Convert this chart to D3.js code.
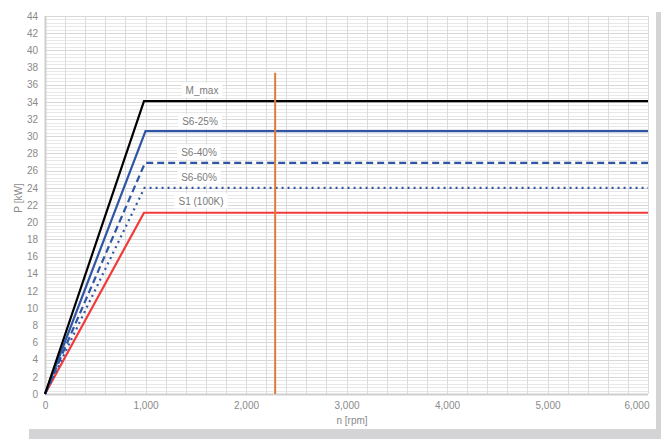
<!DOCTYPE html>
<html>
<head>
<meta charset="utf-8">
<script src="https://cdn.jsdelivr.net/npm/d3@7"></script>
<style>
  body { margin: 0; background: #fff; }
  text { font-family: "Liberation Sans", Arial, sans-serif; }
</style>
</head>
<body>
<div id="chart"></div>
<script>
//page size
let svgWidth = 661;
let svgHeight = 439;

//data: each curve rises linearly to the corner speed, then stays flat
let seriesNames = ["M_max", "S6-25%", "S6-40%", "S6-60%", "S1 (100K)"];
let cornerSpeed = [985, 1000, 995, 990, 985];
let plateauPower = [34.1, 30.6, 26.9, 24.0, 21.1];
let endSpeed = 6000;
let markerSpeed = 2290;
let markerTop = 37.4;

let xTicks = [0, 1000, 2000, 3000, 4000, 5000, 6000];
let yTicks = d3.range(0, 45, 2);

let colors = ["#000000", "#2f55a5", "#2f55a5", "#2f55a5", "#f23a3a"];
let dashes = [null, null, "7,4", "2,4", null];
let labelPos = [
  { x: 202, y: 90 },
  { x: 200, y: 121 },
  { x: 199, y: 152 },
  { x: 199, y: 177 },
  { x: 201, y: 201 }
];

let margin = { top: 16, right: 14, bottom: 45, left: 45 };
let chartWidth = 648 - margin.left;
let chartHeight = 394 - margin.top;

let svg = d3.select("#chart")
  .append("svg")
  .attr("width", svgWidth)
  .attr("height", svgHeight);

// drop shadow of the card
svg.append("rect").attr("x", 656).attr("y", 12).attr("width", 5).attr("height", 427).attr("fill", "#d4d4d6");
svg.append("rect").attr("x", 29).attr("y", 429).attr("width", 632).attr("height", 10).attr("fill", "#d4d4d6");

let chartGroup = svg.append("g")
  .attr("transform", `translate(${margin.left}, ${margin.top})`);

let xScale = d3.scaleLinear().domain([0, 6000]).range([0, chartWidth]);
let yScale = d3.scaleLinear().domain([0, 44]).range([chartHeight, 0]);

/********************************************/
// grid
let minorY = d3.range(0, 44.01, 0.4);
chartGroup.append("g")
  .selectAll("line")
  .data(minorY)
  .enter()
  .append("line")
  .attr("x1", 0)
  .attr("x2", chartWidth)
  .attr("y1", (d) => Math.round(yScale(d)) + 0.5)
  .attr("y2", (d) => Math.round(yScale(d)) + 0.5)
  .attr("stroke", "#e8e8e8")
  .attr("stroke-width", 1);

chartGroup.append("g")
  .selectAll("line")
  .data(d3.range(0, 6001, 200))
  .enter()
  .append("line")
  .attr("x1", (d) => Math.round(xScale(d)) + 0.5)
  .attr("x2", (d) => Math.round(xScale(d)) + 0.5)
  .attr("y1", 0)
  .attr("y2", chartHeight)
  .attr("stroke", "#dcdcdc")
  .attr("stroke-width", 1);

chartGroup.append("g")
  .selectAll("line")
  .data(yTicks)
  .enter()
  .append("line")
  .attr("x1", 0)
  .attr("x2", chartWidth)
  .attr("y1", (d) => Math.round(yScale(d)) + 0.5)
  .attr("y2", (d) => Math.round(yScale(d)) + 0.5)
  .attr("stroke", "#d8d8d8")
  .attr("stroke-width", 1);

/********************************************/
// axes
let xAxis = d3.axisBottom(xScale).tickValues(xTicks).tickSize(0).tickPadding(8)
  .tickFormat(d3.format(","));
let yAxis = d3.axisLeft(yScale).tickValues(yTicks).tickSize(0).tickPadding(7);

let gx = chartGroup.append("g")
  .attr("transform", `translate(0, ${chartHeight})`)
  .call(xAxis);
let gy = chartGroup.append("g").call(yAxis);

[gx, gy].forEach(function (g) {
  g.select(".domain").remove();
  g.selectAll("text").attr("fill", "#8a8a8a").style("font-size", "10px");
});
// last label is pulled inside the plot edge, like the original
gx.selectAll(".tick text").filter((d) => d === 6000)
  .attr("text-anchor", "end")
  .attr("dx", "1px");

chartGroup.append("line")
  .attr("x1", 0).attr("x2", chartWidth)
  .attr("y1", chartHeight + 0.5).attr("y2", chartHeight + 0.5)
  .attr("stroke", "#cfcfcf").attr("stroke-width", 2);
chartGroup.append("line")
  .attr("x1", 0.5).attr("x2", 0.5)
  .attr("y1", 0).attr("y2", chartHeight)
  .attr("stroke", "#cfcfcf").attr("stroke-width", 2);

svg.append("text")
  .attr("x", 352)
  .attr("y", 424)
  .attr("text-anchor", "middle")
  .attr("fill", "#8a8a8a")
  .style("font-size", "10px")
  .text("n [rpm]");

svg.append("text")
  .attr("transform", "translate(22, 198) rotate(-90)")
  .attr("text-anchor", "middle")
  .attr("fill", "#8a8a8a")
  .style("font-size", "10px")
  .text("P [kW]");

/********************************************/
// curves
let line = d3.line()
  .x((d) => xScale(d[0]))
  .y((d) => yScale(d[1]));

// draw bottom curve first so the black one sits on top
for (let i = seriesNames.length - 1; i >= 0; i--) {
  let pts = [[0, 0], [cornerSpeed[i], plateauPower[i]], [endSpeed, plateauPower[i]]];
  chartGroup.append("path")
    .datum(pts)
    .attr("d", line)
    .attr("fill", "none")
    .attr("stroke", colors[i])
    .attr("stroke-width", 2.2)
    .attr("stroke-dasharray", dashes[i]);
}

// orange speed marker
chartGroup.append("line")
  .attr("x1", xScale(markerSpeed)).attr("x2", xScale(markerSpeed))
  .attr("y1", yScale(markerTop)).attr("y2", yScale(0))
  .attr("stroke", "#e07b39")
  .attr("stroke-width", 2);

/********************************************/
// labels with white boxes
seriesNames.forEach(function (name, i) {
  let g = svg.append("g");
  let t = g.append("text")
    .attr("x", labelPos[i].x)
    .attr("y", labelPos[i].y)
    .attr("text-anchor", "middle")
    .attr("dy", "0.35em")
    .attr("fill", "#7a7a7a")
    .style("font-size", "10px")
    .text(name);
  let bb = t.node().getBBox();
  g.insert("rect", "text")
    .attr("x", bb.x - 4)
    .attr("y", bb.y - 2)
    .attr("width", bb.width + 8)
    .attr("height", bb.height + 4)
    .attr("fill", "#ffffff");
});
</script>
</body>
</html>
